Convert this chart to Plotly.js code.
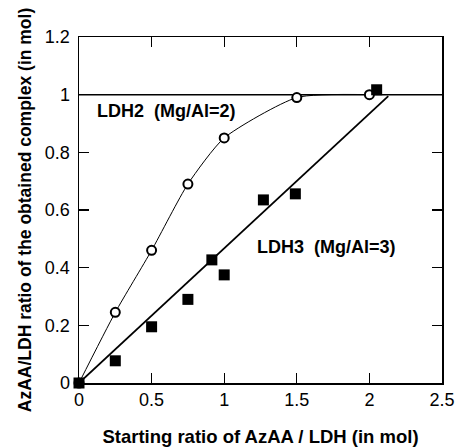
<!DOCTYPE html>
<html>
<head>
<meta charset="utf-8">
<script src="https://cdn.plot.ly/plotly-3.0.1.min.js"></script>
<style>html,body{margin:0;padding:0;background:#fff;}#chart{width:457px;height:447px;}</style>
</head>
<body>
<div id="chart"></div>
<script>
// LDH2 (Mg/Al=2) — open circles
const ldh2X = [0, 0.25, 0.5, 0.75, 1.0, 1.5, 2.0];
const ldh2Y = [0, 0.245, 0.46, 0.69, 0.85, 0.99, 1.0];
// LDH3 (Mg/Al=3) — filled squares
const ldh3X = [0, 0.25, 0.5, 0.75, 0.915, 1.0, 1.27, 1.49, 2.05];
const ldh3Y = [0, 0.077, 0.195, 0.29, 0.427, 0.375, 0.635, 0.656, 1.017];
// LDH3 straight fit line end points
const fit3X = [0, 2.13];
const fit3Y = [0, 0.995];
// horizontal plateau line at 1
const plateauX = [0, 2.5];
const plateauY = [1, 1];
// tick values
const xTicks = [0, 0.5, 1, 1.5, 2, 2.5];
const xTickText = ['0', '0.5', '1', '1.5', '2', '2.5'];
const yTicks = [0, 0.2, 0.4, 0.6, 0.8, 1, 1.2];
const yTickText = ['0', '0.2', '0.4', '0.6', '0.8', '1', '1.2'];

const font = 'Liberation Sans, Arial, Helvetica, sans-serif';

const traces = [
  {x: plateauX, y: plateauY, mode: 'lines', line: {color: '#000', width: 1.5}, hoverinfo: 'skip'},
  {x: fit3X, y: fit3Y, mode: 'lines', line: {color: '#000', width: 1.8}, hoverinfo: 'skip'},
  {x: ldh2X, y: ldh2Y, mode: 'lines', line: {color: '#000', width: 1, shape: 'spline', smoothing: 0.6}, hoverinfo: 'skip'},
  {x: ldh2X, y: ldh2Y, mode: 'markers', cliponaxis: false,
   marker: {symbol: 'circle', size: 9, color: '#fff', line: {color: '#000', width: 2}}},
  {x: ldh3X, y: ldh3Y, mode: 'markers', cliponaxis: false,
   marker: {symbol: 'square', size: 11, color: '#000', line: {width: 0}}}
];

const axisCommon = {
  showgrid: false, zeroline: false, showline: true, linecolor: '#000', linewidth: 1.5,
  mirror: 'ticks', ticks: 'inside', ticklen: 10, tickwidth: 1.2, tickcolor: '#000',
  tickfont: {family: font, size: 18, color: '#000'}
};

const layout = {
  width: 457, height: 447,
  margin: {l: 79, r: 15, t: 37, b: 64},
  paper_bgcolor: '#fff', plot_bgcolor: '#fff',
  showlegend: false,
  xaxis: Object.assign({}, axisCommon, {
    range: [0, 2.5], tickmode: 'array', tickvals: xTicks, ticktext: xTickText,
    title: {text: '<b>Starting ratio of AzAA / LDH (in mol)</b>', font: {family: font, size: 18.5, color: '#000'}, standoff: 22}
  }),
  yaxis: Object.assign({}, axisCommon, {
    range: [0, 1.2], tickmode: 'array', tickvals: yTicks, ticktext: yTickText,
    ticklabelstandoff: 4,
    title: {text: '<b>AzAA/LDH ratio of the obtained complex (in mol)</b>', font: {family: font, size: 17.5, color: '#000'}, standoff: 8}
  }),
  annotations: [
    {x: 0.11, y: 0.945, xref: 'x', yref: 'y', xanchor: 'left', yanchor: 'middle', showarrow: false,
     text: '<b>LDH2&nbsp;&nbsp;(Mg/Al=2)</b>', font: {family: font, size: 18, color: '#000'}},
    {x: 1.21, y: 0.47, xref: 'x', yref: 'y', xanchor: 'left', yanchor: 'middle', showarrow: false,
     text: '<b>LDH3&nbsp;&nbsp;(Mg/Al=3)</b>', font: {family: font, size: 18, color: '#000'}}
  ]
};

Plotly.newPlot('chart', traces, layout, {displayModeBar: false, staticPlot: true});
</script>
</body>
</html>
